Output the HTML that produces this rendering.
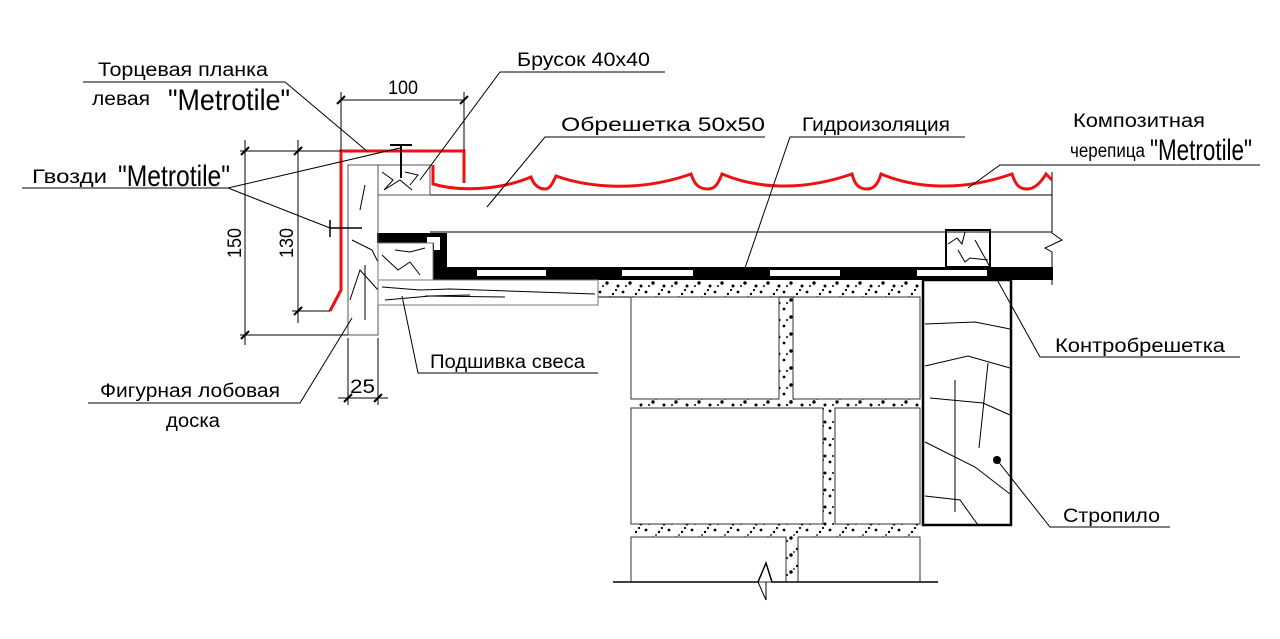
<!DOCTYPE html>
<html><head><meta charset="utf-8"><style>
html,body{margin:0;padding:0;background:#fff;}
svg{display:block;}
text{font-family:"Liberation Sans Narrow","Liberation Sans",sans-serif;font-size:19px;fill:#000;}
.big{font-size:30px;}
</style></head><body>
<svg width="1280" height="639" viewBox="0 0 1280 639" xmlns="http://www.w3.org/2000/svg">
<defs>
<pattern id="dots" width="23" height="17" patternUnits="userSpaceOnUse">
<circle cx="2" cy="3" r="1.4"/><circle cx="9" cy="11" r="1.7"/><circle cx="15" cy="5" r="1.2"/><circle cx="20" cy="14" r="1.5"/><circle cx="5" cy="14" r="1"/><circle cx="18" cy="1" r="1.1"/><circle cx="12" cy="8" r="0.9"/>
</pattern>
</defs>
<g fill="none" stroke="#000" stroke-width="1">
<rect x="598" y="281" width="322" height="16" fill="url(#dots)" stroke="none"/>
<rect x="779" y="297" width="14" height="111" fill="url(#dots)" stroke="none"/>
<rect x="634" y="399" width="286" height="9" fill="url(#dots)" stroke="none"/>
<rect x="823" y="408" width="12" height="116" fill="url(#dots)" stroke="none"/>
<rect x="634" y="524" width="286" height="13" fill="url(#dots)" stroke="none"/>
<rect x="786" y="537" width="12" height="45" fill="url(#dots)" stroke="none"/>
<line x1="598" y1="297" x2="920" y2="297"/>
<rect x="631" y="297" width="148" height="102" stroke="#333"/>
<rect x="793" y="297" width="127" height="102" stroke="#333"/>
<rect x="631" y="408" width="192" height="116" stroke="#333"/>
<rect x="835" y="408" width="85" height="116" stroke="#333"/>
<rect x="631" y="537" width="155" height="45" stroke="#333"/>
<rect x="798" y="537" width="122" height="45" stroke="#333"/>
<polyline points="613,582 758,582 766,563 772,582 938,582" stroke-width="1.5"/>
<polyline points="758,582 766,600 766,582" stroke-width="1" />
<rect x="923" y="280" width="88" height="245" stroke-width="2.5"/>
<polyline points="925,324 975,322 1010,329"/>
<polyline points="925,366 968,356 1010,368"/>
<polyline points="930,398 983,403 1010,415"/>
<polyline points="925,442 975,467 1010,494"/>
<polyline points="925,496 960,500 978,525"/>
<line x1="955" y1="380" x2="955" y2="512"/>
<line x1="988" y1="363" x2="979" y2="448"/>
<line x1="378" y1="195" x2="1052" y2="195"/>
<line x1="430" y1="232" x2="1052" y2="232"/>
<polyline points="1052,172 1052,233 1062,240 1045,248 1052,252 1052,285"/>
<rect x="433" y="267" width="620" height="13" fill="#000" stroke="none"/>
<g fill="#fff" stroke="none">
<rect x="477" y="270" width="69" height="6"/><rect x="622" y="270" width="71" height="6"/><rect x="770" y="270" width="70" height="6"/><rect x="917" y="270" width="70" height="6"/>
</g>
<path d="M377 233 H447 V267 H433 V243 H377 Z" fill="#000" stroke="none"/>
<path d="M427 237 H440 V250 H434 V243 H427Z" fill="#fff" stroke="none"/>
<rect x="946" y="230" width="44" height="37" stroke-width="2"/>
<polyline points="948,244 957,238 962,244 965,232"/><polyline points="958,250 965,262 970,258 988,260"/>
<rect x="348" y="165" width="30" height="170" stroke="#555"/>
<polyline points="352,240 372,250 378,262"/><polyline points="350,300 360,270 378,290"/><line x1="365" y1="185" x2="360" y2="210"/><line x1="365" y1="265" x2="365" y2="320"/>
<rect x="378" y="165" width="52" height="30" stroke="#555"/>
<polyline points="382,172 393,180 384,190 400,180 412,190"/><polyline points="405,172 418,175 410,185"/>
<rect x="378" y="243" width="55" height="37" stroke="#777"/>
<polyline points="382,255 398,270 410,262 420,275"/><polyline points="395,250 410,252 425,248"/>
<rect x="378" y="280" width="220" height="25" stroke="#777"/>
<polyline points="382,287 420,290 450,289 595,294"/><polyline points="385,300 430,296 470,295"/><line x1="425" y1="296" x2="505" y2="297"/>
<polyline points="330,311 341,290 341,151 464,151 464,183" stroke="#e11" stroke-width="3"/>
<path d="M433,165 V184 C460,192 500,190 531,177 C534,186 540,189 545,189 C550,189 552,184 556,176 C590,188 640,192 691,174 C695,186 700,189 708,189 C715,189 718,184 722,174 C755,188 800,192 852,174 C855,186 860,189 867,189 C874,189 878,184 881,174 C915,188 960,192 1012,174 C1016,186 1020,189 1027,189 C1034,189 1040,184 1046,174 L1052,180" stroke="#e11" stroke-width="3"/>
<line x1="390" y1="145" x2="412" y2="145" stroke-width="2"/><line x1="401" y1="145" x2="401" y2="178" stroke-width="2"/>
<line x1="330" y1="228" x2="362" y2="228" stroke-width="1.5"/><line x1="330" y1="220" x2="330" y2="237" stroke-width="1.5"/>
<line x1="341" y1="100" x2="464" y2="100"/><line x1="341" y1="92" x2="341" y2="151"/><line x1="464" y1="92" x2="464" y2="151"/>
<line x1="245" y1="140" x2="245" y2="345"/><line x1="240" y1="151" x2="341" y2="151"/><line x1="240" y1="335" x2="348" y2="335"/>
<line x1="298" y1="140" x2="298" y2="323"/><line x1="292" y1="311" x2="330" y2="311"/>
<line x1="348" y1="338" x2="348" y2="405"/><line x1="378" y1="338" x2="378" y2="405"/><line x1="338" y1="398" x2="388" y2="398"/>
<g stroke-width="2">
<line x1="337" y1="104" x2="345" y2="96"/><line x1="460" y1="104" x2="468" y2="96"/>
<line x1="241" y1="155" x2="249" y2="147"/><line x1="241" y1="339" x2="249" y2="331"/>
<line x1="294" y1="155" x2="302" y2="147"/><line x1="294" y1="315" x2="302" y2="307"/>
<line x1="344" y1="402" x2="352" y2="394"/><line x1="374" y1="402" x2="382" y2="394"/>
</g>
<polyline points="83,82 285,82 368,152"/>
<polyline points="22,188 228,188 400,148"/><line x1="228" y1="188" x2="330" y2="228"/>
<polyline points="665,72 500,72 420,180"/>
<polyline points="765,137 545,137 487,207"/>
<polyline points="965,137 790,137 745,268"/>
<polyline points="1260,165 1000,165 968,188"/>
<polyline points="1240,357 1040,357 975,240"/>
<polyline points="1170,527 1050,527 997,460"/>
<polyline points="598,373 418,373 402,296"/>
<polyline points="88,403 300,403 352,318"/>
</g>
<circle cx="997" cy="460" r="4" fill="#000"/>
<text x="98" y="76" textLength="170" lengthAdjust="spacingAndGlyphs">Торцевая планка</text>
<text x="92" y="105" textLength="58" lengthAdjust="spacingAndGlyphs">левая</text><text x="168" y="110" class="big" textLength="122" lengthAdjust="spacingAndGlyphs">"Metrotile"</text>
<text x="32" y="183" textLength="75" lengthAdjust="spacingAndGlyphs">Гвозди</text><text x="118" y="186" class="big" textLength="112" lengthAdjust="spacingAndGlyphs">"Metrotile"</text>
<text x="388" y="94" textLength="30" lengthAdjust="spacingAndGlyphs">100</text>
<text x="517" y="66" textLength="133" lengthAdjust="spacingAndGlyphs">Брусок 40х40</text>
<text x="561" y="131" textLength="204" lengthAdjust="spacingAndGlyphs">Обрешетка 50х50</text>
<text x="802" y="131" textLength="148" lengthAdjust="spacingAndGlyphs">Гидроизоляция</text>
<text x="1073" y="127" textLength="132" lengthAdjust="spacingAndGlyphs">Композитная</text>
<text x="1070" y="157" textLength="75" lengthAdjust="spacingAndGlyphs">черепица</text><text x="1150" y="160" class="big" textLength="102" lengthAdjust="spacingAndGlyphs">"Metrotile"</text>
<text x="1055" y="352" textLength="170" lengthAdjust="spacingAndGlyphs">Контробрешетка</text>
<text x="1063" y="522" textLength="97" lengthAdjust="spacingAndGlyphs">Стропило</text>
<text x="430" y="368" textLength="155" lengthAdjust="spacingAndGlyphs">Подшивка свеса</text>
<text x="100" y="397" textLength="180" lengthAdjust="spacingAndGlyphs">Фигурная лобовая</text>
<text x="166" y="427" textLength="54" lengthAdjust="spacingAndGlyphs">доска</text>
<text x="350" y="393" textLength="25" lengthAdjust="spacingAndGlyphs">25</text>
<text transform="translate(241,258) rotate(-90)" textLength="30" lengthAdjust="spacingAndGlyphs">150</text>
<text transform="translate(293,258) rotate(-90)" textLength="30" lengthAdjust="spacingAndGlyphs">130</text>
</svg>
</body></html>
